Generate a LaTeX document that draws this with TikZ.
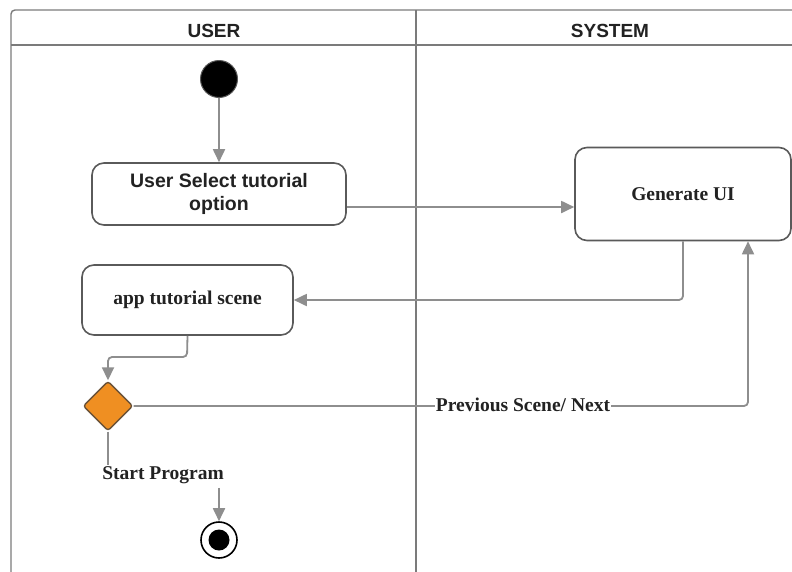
\documentclass[tikz,border=0pt]{standalone}
\usepackage{fontspec}
\setmainfont{Liberation Serif}
\setsansfont{Liberation Sans}
\usetikzlibrary{shapes.geometric,arrows.meta}
\definecolor{wire}{HTML}{8E8E8E}
\definecolor{edge}{HTML}{5A5A5A}
\definecolor{decide}{HTML}{EF8F22}
\definecolor{decideline}{HTML}{6A5238}
\definecolor{ink}{HTML}{222222}
\tikzset{
  x=1pt, y=-1pt,
  act/.style={draw=edge, line width=1.6pt, rounded corners=12pt, fill=white,
    align=center, text=ink, inner sep=0pt},
  flow/.style={draw=wire, line width=1.8pt, rounded corners=4pt,
    -{Triangle[length=13pt,width=12pt]}},
  plain/.style={draw=wire, line width=1.8pt, rounded corners=4pt},
  lane/.style={draw=edge!80, line width=1.4pt},
  serifbold/.style={font=\bfseries\fontsize{19.5}{22}\selectfont, text=ink},
  title/.style={font=\sffamily\bfseries\fontsize{19}{22}\selectfont, text=ink},
}
\begin{document}
\begin{tikzpicture}
\useasboundingbox (0,0) rectangle (792,571);
\fill[white] (0,0) rectangle (792,571);
% swimlane frame
\draw[lane, rounded corners=4pt] (11,590) -- (11,10) -- (800,10);
\draw[lane] (11,45) -- (800,45);
\draw[lane] (416,10) -- (416,590);
\node[title] (hu) at (214,31) {USER};
\node[title] (hs) at (610,31) {SYSTEM};
% start / end
\node[circle, fill=black, draw=edge, line width=1pt, minimum size=37pt, inner sep=0pt] (start) at (219,79) {};
\node[circle, draw=black, line width=1.6pt, fill=white, minimum size=36pt, inner sep=0pt] (stop) at (219,540) {};
\fill[black] (stop.center) circle (10.5pt);
% activities
\node[act, minimum width=254pt, minimum height=62pt,
  font=\sffamily\bfseries\fontsize{19.5}{23}\selectfont] (sel) at (219,194)
  {User Select tutorial\\option};
\node[act, minimum width=216pt, minimum height=93pt, serifbold] (gen) at (683,194) {Generate UI};
\node[act, minimum width=211pt, minimum height=70pt, serifbold] (app) at (187.5,300) {app tutorial scene};
\node[diamond, aspect=1, draw=decideline, fill=decide, line width=1.4pt,
  minimum size=50pt, inner sep=0pt, rounded corners=3pt] (dec) at (108,406) {};
\node[serifbold, inner sep=1pt] (sp) at (163,475) {Start Program};
\coordinate (back) at (748,406);
% connectors
\draw[flow] (start) -- (sel);
\draw[flow] (sel.east |- 0,207) -- (gen.west |- 0,207);
\draw[flow] (gen.south) -- (683,300) -- (app.east);
\draw[flow] (app.south) -- (187,357) -- (108,357) -- (dec.north);
\draw[flow] (dec.east) -- (back) -- (back |- gen.south);
\node[serifbold, fill=white, inner sep=1pt] (lbl) at (523,405) {Previous Scene/ Next};
\draw[plain] (dec.south) -- (dec.south |- sp.north);
\draw[flow] (stop |- sp.south) ++(0,3) -- (stop.north);
\end{tikzpicture}
\end{document}
